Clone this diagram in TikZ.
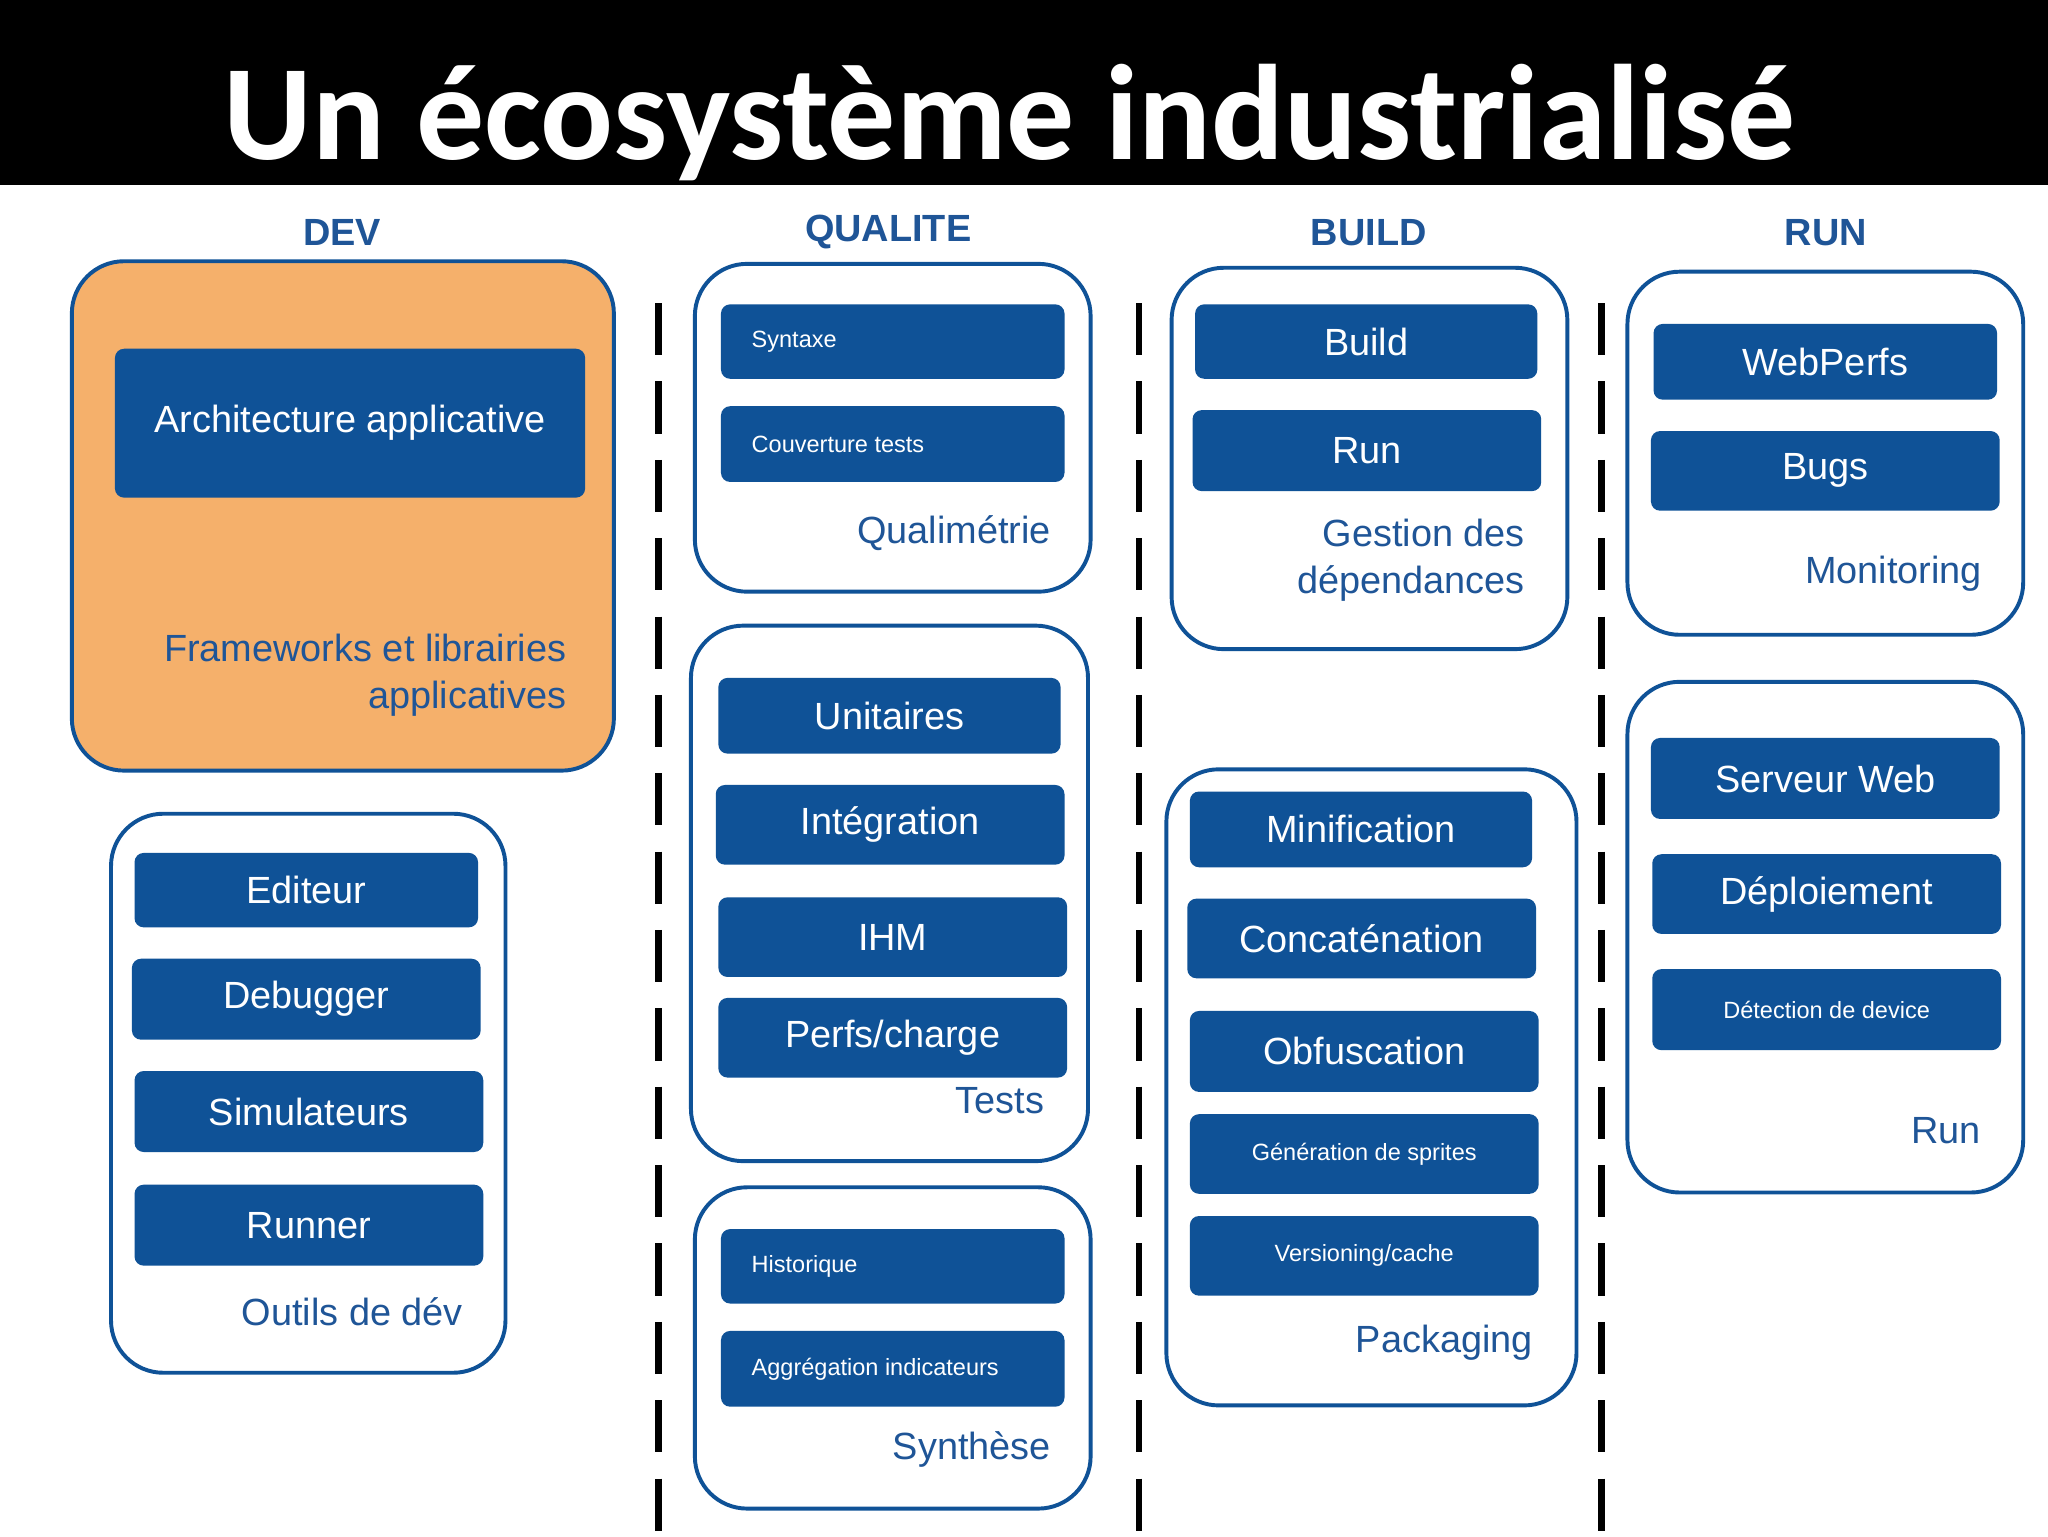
\documentclass[tikz,border=0pt]{standalone}
\usepackage{fontspec}
\setmainfont{Liberation Sans}
\newfontfamily\titlefont{Carlito}
\definecolor{bx}{HTML}{0F5297}
\definecolor{lb}{HTML}{1F5597}
\definecolor{org}{HTML}{F5B06B}
\tikzset{
 outer/.style={draw=bx,line width=3pt,fill=white,rounded corners=40pt},
 ibox/.style={fill=bx,rounded corners=7pt},
 big/.style={text=white,font=\fontsize{29}{34}\selectfont},
 sm/.style={text=white,font=\fontsize{18}{22}\selectfont},
 lab/.style={text=lb,font=\fontsize{29}{36}\selectfont,align=right},
 hdr/.style={text=lb,font=\bfseries\fontsize{29}{34}\selectfont},
 sep/.style={line width=5pt,dash pattern=on 40pt off 20pt}
}
\newcommand\ib[6]{\path[ibox] (#2,#3) rectangle (#4,#5) node[midway,big] (#1) {#6};}
\newcommand\is[6]{\path[ibox] (#2,#3) rectangle (#4,#5) node[midway,sm] (#1) {#6};}
\newcommand\il[6]{\path[ibox] (#2,#3) rectangle (#4,#5); \node[sm,anchor=west] (#1) at (572,{(#3+#5)/2}) {#6};}
\begin{document}
\begin{tikzpicture}[x=1pt,y=-1pt]
\useasboundingbox (0,0) rectangle (1568,1176);
\fill[white] (0,0) rectangle (1568,1176);
\fill[black] (0,0) rectangle (1568,142);
\node[text=white,font=\titlefont\bfseries\fontsize{104}{110}\selectfont,anchor=base] (title) at (773,122) {Un écosystème industrialisé};
\node[hdr] (hdev) at (262,178) {DEV};
\node[hdr] (hq) at (680,178) {QUALITE};
\node[hdr] (hb) at (1048,178) {BUILD};
\node[hdr] (hr) at (1398,178) {RUN};
\coordinate (s1a) at (504,232); \coordinate (s1b) at (504,1176);
\coordinate (s2a) at (872,232); \coordinate (s2b) at (872,1176);
\coordinate (s3a) at (1226,232); \coordinate (s3b) at (1226,1176);
\draw[sep] (s1a)--(s1b); \draw[sep] (s2a)--(s2b); \draw[sep] (s3a)--(s3b);
% DEV
\draw[outer,fill=org] (55,200) rectangle (470,590);
\ib{arch}{88}{267}{448}{381}{Architecture applicative}
\node[lab,anchor=north east] (fw) at (437,482) {Frameworks et librairies\\applicatives};
\draw[outer] (85,623) rectangle (387,1051);
\ib{ed}{103}{653}{366}{710}{Editeur}
\ib{dbg}{101}{734}{368}{796}{Debugger}
\ib{sim}{103}{820}{370}{882}{Simulateurs}
\ib{run1}{103}{907}{370}{969}{Runner}
\node[lab,anchor=east] (od) at (358,1004) {Outils de dév};
% QUALITE
\draw[outer] (532,202) rectangle (835,453);
\il{syn}{552}{233}{815}{290}{Syntaxe}
\il{cov}{552}{311}{815}{369}{Couverture tests}
\node[lab,anchor=east] (qm) at (808,408) {Qualimétrie};
\draw[outer] (529,479) rectangle (833,889);
\ib{uni}{550}{519}{812}{577}{Unitaires}
\ib{integ}{548}{601}{815}{662}{Intégration}
\ib{ihm}{550}{687}{817}{748}{IHM}
\ib{perf}{550}{764}{817}{825}{Perfs/charge}
\node[lab,anchor=east] (tests) at (803,843) {Tests};
\draw[outer] (532,909) rectangle (835,1155);
\il{hist}{552}{941}{815}{998}{Historique}
\il{agg}{552}{1019}{815}{1077}{Aggrégation indicateurs}
\node[lab,anchor=east] (synth) at (808,1110) {Synthèse};
% BUILD
\draw[outer] (897,205) rectangle (1200,497);
\ib{bld}{915}{233}{1177}{290}{Build}
\ib{brun}{913}{314}{1180}{376}{Run}
\node[lab,anchor=north east] (gd) at (1171,394) {Gestion des\\dépendances};
\draw[outer] (893,589) rectangle (1207,1076);
\ib{min}{911}{606}{1173}{664}{Minification}
\ib{conc}{909}{688}{1176}{749}{Concaténation}
\ib{obf}{911}{774}{1178}{836}{Obfuscation}
\is{spr}{911}{853}{1178}{914}{Génération de sprites}
\is{ver}{911}{931}{1178}{992}{Versioning/cache}
\node[lab,anchor=east] (pkg) at (1177,1028) {Packaging};
% RUN
\draw[outer] (1246,208) rectangle (1549,486);
\ib{wp}{1266}{248}{1529}{306}{WebPerfs}
\ib{bug}{1264}{330}{1531}{391}{Bugs}
\node[lab,anchor=east] (mon) at (1521,439) {Monitoring};
\draw[outer] (1246,522) rectangle (1549,913);
\ib{sw}{1264}{565}{1531}{627}{Serveur Web}
\ib{dep}{1265}{654}{1532}{715}{Déploiement}
\is{det}{1265}{742}{1532}{804}{Détection de device}
\node[lab,anchor=east] (rrun) at (1520,866) {Run};
\end{tikzpicture}
\end{document}
